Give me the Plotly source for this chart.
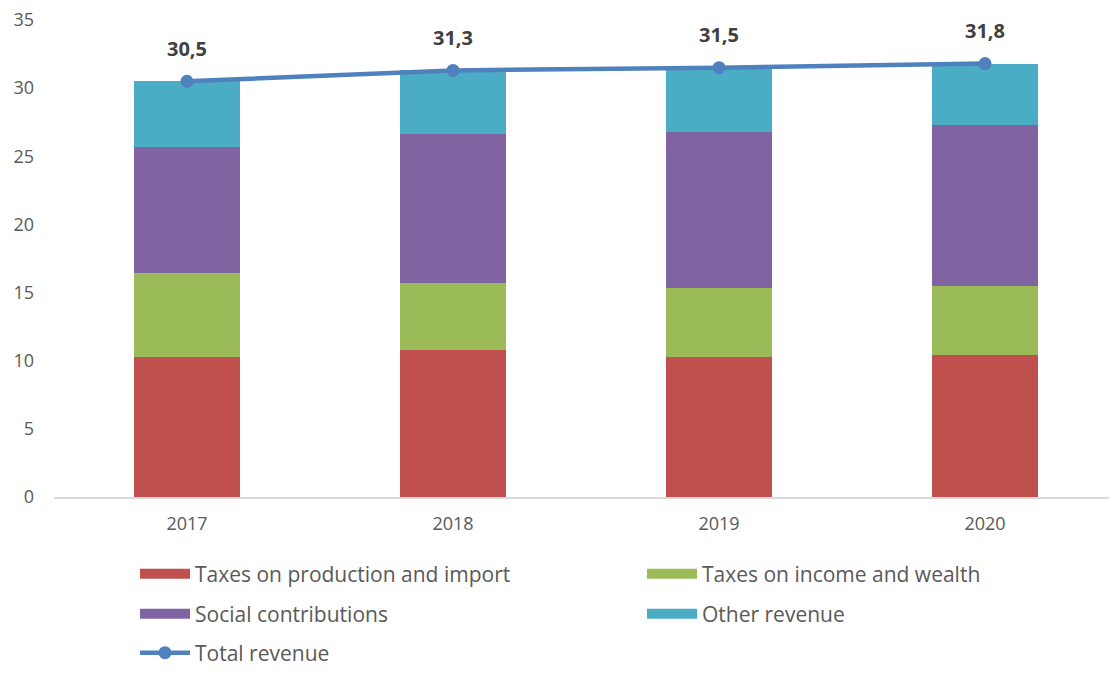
import plotly.graph_objects as go

years = ['2017', '2018', '2019', '2020']
production_import = [10.3, 10.8, 10.3, 10.4]
income_wealth = [6.1, 4.9, 5.0, 5.1]
social = [9.3, 10.9, 11.5, 11.8]
other = [4.8, 4.7, 4.7, 4.5]
total = [30.5, 31.3, 31.5, 31.8]

FONT = 'Open Sans'
GREY = '#595959'

# page body has an 8px margin, so the figure is 16px smaller than the window
W, H = 1101, 658

fig = go.Figure()

bars = [
    ('Taxes on production and import', production_import, '#C0504D', 'legend'),
    ('Taxes on income and wealth', income_wealth, '#9BBB59', 'legend2'),
    ('Social contributions', social, '#8064A2', 'legend3'),
    ('Other revenue', other, '#4BACC6', 'legend4'),
]
for name, vals, col, leg in bars:
    fig.add_trace(go.Bar(
        name=name,
        x=years,
        y=vals,
        showlegend=False,
        marker=dict(color=col, line=dict(width=0)),
    ))
    # legend-only entry so the key is a wide flat rectangle like in Excel
    fig.add_trace(go.Scatter(
        name=name,
        x=[None], y=[None],
        mode='lines',
        legend=leg,
        line=dict(color=col, width=14),
        hoverinfo='skip',
    ))

fig.add_trace(go.Scatter(
    name='Total revenue',
    x=years,
    y=total,
    mode='lines+markers',
    legend='legend5',
    line=dict(color='#4F81BD', width=4.5),
    marker=dict(size=13, color='#4F81BD'),
))

for i, t in enumerate(total):
    fig.add_annotation(
        x=i, y=t,
        text='<b>' + f'{t:.1f}'.replace('.', ',') + '</b>',
        showarrow=False,
        yshift=33,
        font=dict(family=FONT, size=20, color='#404040'),
    )

fig.update_xaxes(
    type='category',
    range=[-0.5, 3.466],
    showgrid=False,
    showline=True,
    linecolor='#d9d9d9',
    linewidth=1.5,
    ticks='',
    tickangle=0,
    tickfont=dict(family=FONT, size=18, color=GREY),
    ticklabelstandoff=10,
)
fig.update_yaxes(
    range=[0, 35],
    dtick=5,
    showgrid=False,
    zeroline=False,
    showline=False,
    ticklabeloverflow='allow',
    tickfont=dict(family=FONT, size=18, color=GREY),
    ticklabelstandoff=19,
)


def leg(px, py):
    # px: page x of the key's left end, py: page y of the row centre
    return dict(
        orientation='h',
        xref='container',
        yref='container',
        xanchor='left',
        yanchor='middle',
        x=(px - 8 - 5) / W,
        y=1 - (py - 8) / H,
        itemwidth=50,
        font=dict(family=FONT, size=21, color=GREY),
    )


fig.update_layout(
    barmode='stack',
    bargap=0.6,
    width=W,
    height=H,
    margin=dict(l=46, r=0, t=12, b=169, autoexpand=False),
    plot_bgcolor='white',
    paper_bgcolor='white',
    showlegend=True,
    legend=leg(140, 574),
    legend2=leg(647, 574),
    legend3=leg(140, 614),
    legend4=leg(647, 614),
    legend5=leg(140, 653),
)

fig.write_html('out.html')
